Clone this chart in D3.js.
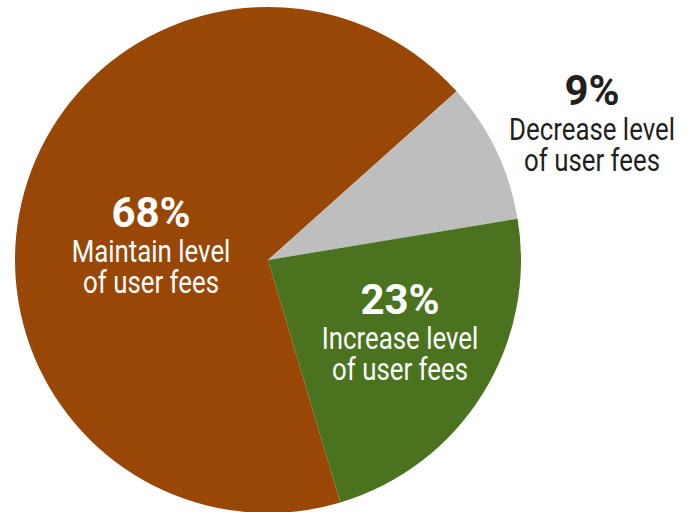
<!DOCTYPE html>
<html>
<head>
<meta charset="utf-8">
<script src="https://cdn.jsdelivr.net/npm/d3@7"></script>
<style>
  html, body { margin: 0; padding: 0; background: #ffffff; }
  svg { display: block; }
  .pct { font-family: Roboto, "Noto Sans", sans-serif; font-weight: bold; }
  .desc { font-family: Roboto, "Noto Sans", sans-serif; font-weight: normal; }
</style>
</head>
<body>
<svg id="chart" width="692" height="512"></svg>
<script>
// Survey answers on user fees, in drawing order (clockwise)
const categories = ["Maintain level of user fees", "Decrease level of user fees", "Increase level of user fees"];
const shares = [68, 9, 23];
const lineOne = ["Maintain level", "Decrease level", "Increase level"];
const lineTwo = ["of user fees", "of user fees", "of user fees"];

const colors = ["#994706", "#bebebe", "#4a721f"];
const textColors = ["#ffffff", "#231f20", "#ffffff"];

const width = 692, height = 512;
const cx = 268, cy = 260, radius = 253;

const svg = d3.select("#chart");
const g = svg.append("g").attr("transform", `translate(${cx},${cy})`);

const data = categories.map((c, i) => ({ category: c, value: shares[i], i }));

// Brown slice begins at the lower edge and sweeps round through the left side
const start = -196.6 * Math.PI / 180;
const pie = d3.pie()
  .value(d => d.value)
  .sort(null)
  .startAngle(start)
  .endAngle(start + 2 * Math.PI);

const arc = d3.arc().innerRadius(0).outerRadius(radius);

const arcs = pie(data);

g.selectAll("path.slice")
  .data(arcs)
  .join("path")
  .attr("class", "slice")
  .attr("d", arc)
  .attr("fill", d => colors[d.data.i]);

// Label blocks: anchor point (centre x, baseline of the percentage line)
const labelAnchors = [
  { x: 151, y: 227 },
  { x: 592, y: 105 },
  { x: 400, y: 314 }
];

// Condensed look: squeeze the glyphs horizontally
const pctSqueeze = 1.0;
const descSqueeze = 0.82;

const labels = svg.selectAll("g.label")
  .data(arcs)
  .join("g")
  .attr("class", "label")
  .attr("transform", d => `translate(${labelAnchors[d.data.i].x},${labelAnchors[d.data.i].y})`)
  .attr("fill", d => textColors[d.data.i])
  .attr("text-anchor", "middle");

labels.append("text")
  .attr("class", "pct")
  .attr("font-size", 42)
  .attr("transform", `scale(${pctSqueeze},1)`)
  .text(d => d3.format(".0f")(d.data.value) + "%");

labels.append("text")
  .attr("class", "desc")
  .attr("font-size", 31.5)
  .attr("transform", `translate(0,35) scale(${descSqueeze},1)`)
  .text(d => lineOne[d.data.i]);

labels.append("text")
  .attr("class", "desc")
  .attr("font-size", 31.5)
  .attr("transform", `translate(0,66) scale(${descSqueeze},1)`)
  .text(d => lineTwo[d.data.i]);
</script>
</body>
</html>
